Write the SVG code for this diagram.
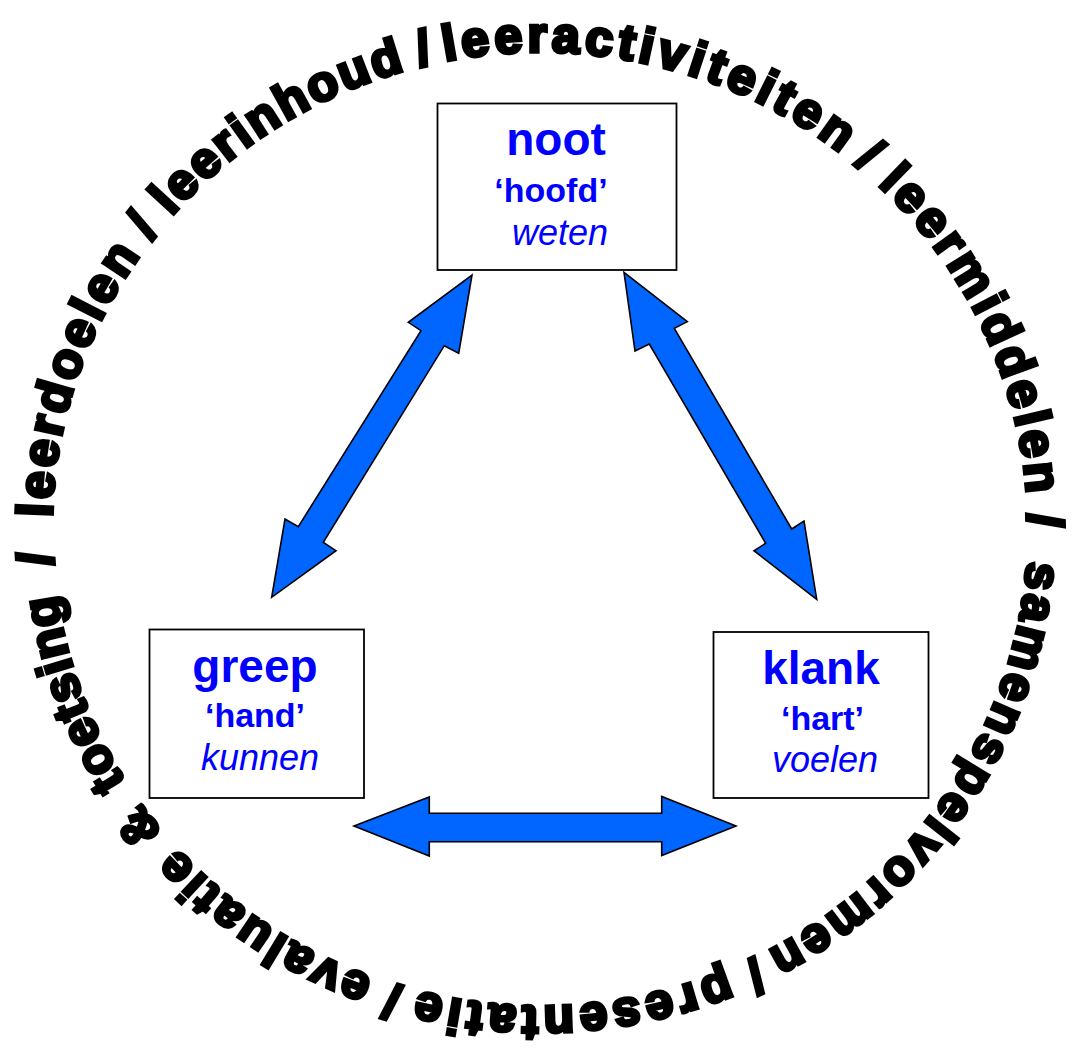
<svg xmlns="http://www.w3.org/2000/svg" xmlns:xlink="http://www.w3.org/1999/xlink" width="1073" height="1049" viewBox="0 0 1073 1049">
<style>
.ring{font-family:"Liberation Sans",Arial,sans-serif;font-weight:bold;font-size:50px;fill:#000;stroke:#000;stroke-width:3.6;stroke-linejoin:miter;}
.box{fill:#fff;stroke:#000;stroke-width:1.8;}
.t1{font-family:"Liberation Sans",Arial,sans-serif;font-size:46px;font-weight:bold;fill:#0000ff;text-anchor:middle;}
.t2{font-family:"Liberation Sans",Arial,sans-serif;font-size:34px;font-weight:bold;fill:#0000ff;text-anchor:middle;}
.t3{font-family:"Liberation Sans",Arial,sans-serif;font-size:36px;font-style:italic;fill:#0000ff;text-anchor:middle;}
.arrow{fill:#0066ff;stroke:#000;stroke-width:1.6;stroke-linejoin:miter;}
</style>
<defs>
<path id="ring" d="M 1028 529 A 488 477 0 1 1 52 529 A 488 477 0 1 1 1028 529"/>
</defs>
<rect width="1073" height="1049" fill="#fff"/>
<g id="ring-text" class="ring" text-anchor="middle">
<text letter-spacing="3.4"><textPath xlink:href="#ring" href="#ring" startOffset="1669.3">leerdoelen</textPath></text>
<text><textPath xlink:href="#ring" href="#ring" startOffset="1832.6">/</textPath></text>
<text letter-spacing="2.6"><textPath xlink:href="#ring" href="#ring" startOffset="1998.4">leerinhoud</textPath></text>
<text><textPath xlink:href="#ring" href="#ring" startOffset="2159.3">/</textPath></text>
<text letter-spacing="4.55"><textPath xlink:href="#ring" href="#ring" startOffset="2389.3">leeractiviteiten</textPath></text>
<text><textPath xlink:href="#ring" href="#ring" startOffset="2620">/</textPath></text>
<text letter-spacing="3.9"><textPath xlink:href="#ring" href="#ring" startOffset="2822.3">leermiddelen</textPath></text>
<text><textPath xlink:href="#ring" href="#ring" startOffset="3022.9">/</textPath></text>
<text letter-spacing="3.6"><textPath xlink:href="#ring" href="#ring" startOffset="278.7">samenspelvormen</textPath></text>
<text><textPath xlink:href="#ring" href="#ring" startOffset="542.4">/</textPath></text>
<text letter-spacing="4.7"><textPath xlink:href="#ring" href="#ring" startOffset="726.2">presentatie</textPath></text>
<text><textPath xlink:href="#ring" href="#ring" startOffset="903.1">/</textPath></text>
<text letter-spacing="2.9"><textPath xlink:href="#ring" href="#ring" startOffset="1047.8">evaluatie</textPath></text>
<text><textPath xlink:href="#ring" href="#ring" startOffset="1204.8">&amp;</textPath></text>
<text letter-spacing="1"><textPath xlink:href="#ring" href="#ring" startOffset="1349.9">toetsing</textPath></text>
<text><textPath xlink:href="#ring" href="#ring" startOffset="1486.8">/</textPath></text>
</g>
<g id="connectors">
<polygon class="arrow" points="472,275 458.7,353.3 444.3,345.7 323.3,542.3 336,550.7 271.7,597.3 285,519 298.3,526.7 421,330.7 408.3,322.3"/>
<polygon class="arrow" points="624,272.3 687.3,321.7 674.3,328.3 791.7,529 804,521 816.7,599.3 754,550.7 765.7,543.3 649.3,344 635,351"/>
<polygon class="arrow" points="354,826 429.3,797 429.3,813.3 661.7,813.3 661.7,796.5 736,826 661.7,855.5 661.7,841.7 429.3,841.7 429.3,856"/>
</g>
<g id="node-noot">
<rect class="box" x="437.5" y="103.5" width="239" height="166.5"/>
<text class="t1" x="556" y="155">noot</text>
<text class="t2" x="551" y="201.5">‘hoofd’</text>
<text class="t3" x="560" y="245">weten</text>
</g>
<g id="node-greep">
<rect class="box" x="149.5" y="629.5" width="214.5" height="168.5"/>
<text class="t1" x="255" y="681.5">greep</text>
<text class="t2" x="255" y="726.5">‘hand’</text>
<text class="t3" x="260" y="769.5">kunnen</text>
</g>
<g id="node-klank">
<rect class="box" x="713.5" y="632" width="215" height="166"/>
<text class="t1" x="821" y="683.5">klank</text>
<text class="t2" x="822.5" y="730">‘hart’</text>
<text class="t3" x="825" y="771.5">voelen</text>
</g>
</svg>
